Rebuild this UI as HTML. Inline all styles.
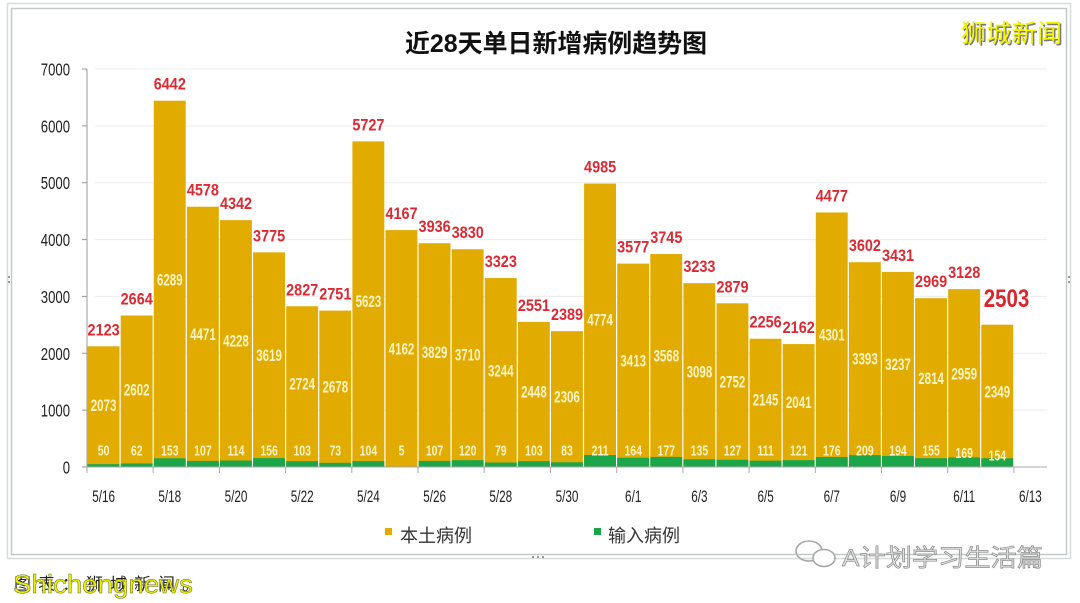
<!DOCTYPE html>
<html><head><meta charset="utf-8"><style>
html,body{margin:0;padding:0;background:#fff;}
svg{display:block;}
.num{font-family:"Liberation Sans",sans-serif;}
.cjk{font-family:"Liberation Sans","Noto Sans CJK SC",sans-serif;}
</style></head><body>
<svg width="1080" height="603" viewBox="0 0 1080 603" xmlns="http://www.w3.org/2000/svg">
<rect x="0" y="0" width="1080" height="603" fill="#fff"/>
<!-- frame -->
<rect x="7.5" y="3.5" width="1063" height="555" fill="none" stroke="#d6dcdc" stroke-width="1.5"/>
<rect x="11.5" y="8.5" width="1055" height="546" fill="none" stroke="#c3c9c9" stroke-width="1.5"/>
<g fill="#999"><rect x="8" y="276" width="2" height="2"/><rect x="8" y="281" width="2" height="2"/><rect x="1068" y="276" width="2" height="2"/><rect x="1068" y="281" width="2" height="2"/><rect x="532" y="556" width="2" height="2"/><rect x="537" y="556" width="2" height="2"/><rect x="542" y="556" width="2" height="2"/></g>

<!-- title -->
<text x="556" y="52" text-anchor="middle" class="cjk" font-size="25" font-weight="bold" fill="#111" textLength="302" lengthAdjust="spacingAndGlyphs">近28天单日新增病例趋势图</text>
<!-- top-right watermark -->
<text x="962.5" y="43.5" style="font-family:'WenQuanYi Zen Hei','Noto Sans CJK SC',sans-serif" font-size="25" fill="#777" textLength="101">狮城新闻</text>
<text x="961" y="42" style="font-family:'WenQuanYi Zen Hei','Noto Sans CJK SC',sans-serif" font-size="25" fill="#f4f400" textLength="101">狮城新闻</text>

<!-- gridlines -->
<g stroke="#ececec" stroke-width="1">
<line x1="95" y1="69" x2="1047" y2="69"/>
<line x1="95" y1="125.9" x2="1047" y2="125.9"/>
<line x1="95" y1="182.7" x2="1047" y2="182.7"/>
<line x1="95" y1="239.6" x2="1047" y2="239.6"/>
<line x1="95" y1="296.4" x2="1047" y2="296.4"/>
<line x1="95" y1="353.3" x2="1047" y2="353.3"/>
<line x1="95" y1="410.1" x2="1047" y2="410.1"/>
</g>

<!-- y axis -->
<g stroke="#9a9a9a" stroke-width="1">
<line x1="87" y1="69" x2="87" y2="467"/>
<line x1="82" y1="69" x2="87" y2="69"/>
<line x1="82" y1="125.9" x2="87" y2="125.9"/>
<line x1="82" y1="182.7" x2="87" y2="182.7"/>
<line x1="82" y1="239.6" x2="87" y2="239.6"/>
<line x1="82" y1="296.4" x2="87" y2="296.4"/>
<line x1="82" y1="353.3" x2="87" y2="353.3"/>
<line x1="82" y1="410.1" x2="87" y2="410.1"/>
<line x1="82" y1="467" x2="87" y2="467"/>
</g>
<g class="num" font-size="18" fill="#222" text-anchor="end">
<text transform="translate(70,75.5) scale(0.73,1)">7000</text>
<text transform="translate(70,132.4) scale(0.73,1)">6000</text>
<text transform="translate(70,189.2) scale(0.73,1)">5000</text>
<text transform="translate(70,246.1) scale(0.73,1)">4000</text>
<text transform="translate(70,302.9) scale(0.73,1)">3000</text>
<text transform="translate(70,359.8) scale(0.73,1)">2000</text>
<text transform="translate(70,416.6) scale(0.73,1)">1000</text>
<text transform="translate(70,473.5) scale(0.73,1)">0</text>
</g>

<!-- bars: gold totals -->
<g fill="#e1ab00">
<rect x="87.6" y="346.29" width="31.9" height="120.71"/>
<rect x="120.7" y="315.53" width="31.9" height="151.47"/>
<rect x="153.8" y="100.73" width="31.9" height="366.27"/>
<rect x="186.9" y="206.71" width="31.9" height="260.29"/>
<rect x="220.0" y="220.13" width="31.9" height="246.87"/>
<rect x="253.1" y="252.36" width="31.9" height="214.64"/>
<rect x="286.2" y="306.27" width="31.9" height="160.73"/>
<rect x="319.3" y="310.59" width="31.9" height="156.41"/>
<rect x="352.4" y="141.38" width="31.9" height="325.62"/>
<rect x="385.5" y="230.08" width="31.9" height="236.92"/>
<rect x="418.6" y="243.21" width="31.9" height="223.79"/>
<rect x="451.7" y="249.24" width="31.9" height="217.76"/>
<rect x="484.8" y="278.07" width="31.9" height="188.93"/>
<rect x="517.9" y="321.96" width="31.9" height="145.04"/>
<rect x="551.0" y="331.17" width="31.9" height="135.83"/>
<rect x="584.1" y="183.57" width="31.9" height="283.43"/>
<rect x="617.2" y="263.62" width="31.9" height="203.38"/>
<rect x="650.3" y="254.07" width="31.9" height="212.93"/>
<rect x="683.4" y="283.18" width="31.9" height="183.82"/>
<rect x="716.5" y="303.31" width="31.9" height="163.69"/>
<rect x="749.6" y="338.73" width="31.9" height="128.27"/>
<rect x="782.7" y="344.08" width="31.9" height="122.92"/>
<rect x="815.8" y="212.45" width="31.9" height="254.55"/>
<rect x="848.9" y="262.20" width="31.9" height="204.80"/>
<rect x="882.0" y="271.92" width="31.9" height="195.08"/>
<rect x="915.1" y="298.19" width="31.9" height="168.81"/>
<rect x="948.2" y="289.15" width="31.9" height="177.85"/>
<rect x="981.3" y="324.69" width="31.9" height="142.31"/>
</g>
<!-- green imported -->
<g fill="#1ba64a">
<rect x="87.6" y="464.16" width="31.9" height="2.84"/>
<rect x="120.7" y="463.47" width="31.9" height="3.53"/>
<rect x="153.8" y="458.30" width="31.9" height="8.70"/>
<rect x="186.9" y="460.92" width="31.9" height="6.08"/>
<rect x="220.0" y="460.52" width="31.9" height="6.48"/>
<rect x="253.1" y="458.13" width="31.9" height="8.87"/>
<rect x="286.2" y="461.14" width="31.9" height="5.86"/>
<rect x="319.3" y="462.85" width="31.9" height="4.15"/>
<rect x="352.4" y="461.09" width="31.9" height="5.91"/>
<rect x="385.5" y="466.72" width="31.9" height="0.28"/>
<rect x="418.6" y="460.92" width="31.9" height="6.08"/>
<rect x="451.7" y="460.18" width="31.9" height="6.82"/>
<rect x="484.8" y="462.51" width="31.9" height="4.49"/>
<rect x="517.9" y="461.14" width="31.9" height="5.86"/>
<rect x="551.0" y="462.28" width="31.9" height="4.72"/>
<rect x="584.1" y="455.00" width="31.9" height="12.00"/>
<rect x="617.2" y="457.68" width="31.9" height="9.32"/>
<rect x="650.3" y="456.94" width="31.9" height="10.06"/>
<rect x="683.4" y="459.32" width="31.9" height="7.68"/>
<rect x="716.5" y="459.78" width="31.9" height="7.22"/>
<rect x="749.6" y="460.69" width="31.9" height="6.31"/>
<rect x="782.7" y="460.12" width="31.9" height="6.88"/>
<rect x="815.8" y="456.99" width="31.9" height="10.01"/>
<rect x="848.9" y="455.12" width="31.9" height="11.88"/>
<rect x="882.0" y="455.97" width="31.9" height="11.03"/>
<rect x="915.1" y="458.19" width="31.9" height="8.81"/>
<rect x="948.2" y="457.39" width="31.9" height="9.61"/>
<rect x="981.3" y="458.24" width="31.9" height="8.76"/>
</g>

<!-- x axis -->
<g stroke="#a8a8a8" stroke-width="1">
<line x1="87" y1="467" x2="1047" y2="467"/>
<line x1="87" y1="467" x2="87" y2="473"/>
<line x1="153.2" y1="467" x2="153.2" y2="473"/>
<line x1="219.4" y1="467" x2="219.4" y2="473"/>
<line x1="285.6" y1="467" x2="285.6" y2="473"/>
<line x1="351.8" y1="467" x2="351.8" y2="473"/>
<line x1="418.0" y1="467" x2="418.0" y2="473"/>
<line x1="484.2" y1="467" x2="484.2" y2="473"/>
<line x1="550.4" y1="467" x2="550.4" y2="473"/>
<line x1="616.7" y1="467" x2="616.7" y2="473"/>
<line x1="682.9" y1="467" x2="682.9" y2="473"/>
<line x1="749.1" y1="467" x2="749.1" y2="473"/>
<line x1="815.3" y1="467" x2="815.3" y2="473"/>
<line x1="881.5" y1="467" x2="881.5" y2="473"/>
<line x1="947.7" y1="467" x2="947.7" y2="473"/>
<line x1="1013.9" y1="467" x2="1013.9" y2="473"/>
</g>
<g class="num" font-size="17" fill="#222" text-anchor="middle">
<text transform="translate(103.6,502) scale(0.69,1)">5/16</text>
<text transform="translate(169.8,502) scale(0.69,1)">5/18</text>
<text transform="translate(236.0,502) scale(0.69,1)">5/20</text>
<text transform="translate(302.2,502) scale(0.69,1)">5/22</text>
<text transform="translate(368.4,502) scale(0.69,1)">5/24</text>
<text transform="translate(434.6,502) scale(0.69,1)">5/26</text>
<text transform="translate(500.8,502) scale(0.69,1)">5/28</text>
<text transform="translate(567.0,502) scale(0.69,1)">5/30</text>
<text transform="translate(633.2,502) scale(0.69,1)">6/1</text>
<text transform="translate(699.4,502) scale(0.69,1)">6/3</text>
<text transform="translate(765.6,502) scale(0.69,1)">6/5</text>
<text transform="translate(831.8,502) scale(0.69,1)">6/7</text>
<text transform="translate(898.0,502) scale(0.69,1)">6/9</text>
<text transform="translate(964.2,502) scale(0.69,1)">6/11</text>
<text transform="translate(1030.4,502) scale(0.69,1)">6/13</text>
</g>

<!-- red total labels -->
<g class="num" font-size="17" font-weight="bold" fill="#da2a33" text-anchor="middle">
<text transform="translate(103.6,335.3) scale(0.85,1)">2123</text>
<text transform="translate(136.7,304.5) scale(0.85,1)">2664</text>
<text transform="translate(169.8,89.7) scale(0.85,1)">6442</text>
<text transform="translate(202.9,195.7) scale(0.85,1)">4578</text>
<text transform="translate(236.0,209.1) scale(0.85,1)">4342</text>
<text transform="translate(269.1,241.4) scale(0.85,1)">3775</text>
<text transform="translate(302.2,295.3) scale(0.85,1)">2827</text>
<text transform="translate(335.3,299.6) scale(0.85,1)">2751</text>
<text transform="translate(368.4,130.4) scale(0.85,1)">5727</text>
<text transform="translate(401.5,219.1) scale(0.85,1)">4167</text>
<text transform="translate(434.6,232.2) scale(0.85,1)">3936</text>
<text transform="translate(467.7,238.2) scale(0.85,1)">3830</text>
<text transform="translate(500.8,267.1) scale(0.85,1)">3323</text>
<text transform="translate(533.9,311.0) scale(0.85,1)">2551</text>
<text transform="translate(567.0,320.2) scale(0.85,1)">2389</text>
<text transform="translate(600.1,172.6) scale(0.85,1)">4985</text>
<text transform="translate(633.2,252.6) scale(0.85,1)">3577</text>
<text transform="translate(666.3,243.1) scale(0.85,1)">3745</text>
<text transform="translate(699.4,272.2) scale(0.85,1)">3233</text>
<text transform="translate(732.5,292.3) scale(0.85,1)">2879</text>
<text transform="translate(765.6,327.7) scale(0.85,1)">2256</text>
<text transform="translate(798.7,333.1) scale(0.85,1)">2162</text>
<text transform="translate(831.8,201.5) scale(0.85,1)">4477</text>
<text transform="translate(864.9,251.2) scale(0.85,1)">3602</text>
<text transform="translate(898.0,260.9) scale(0.85,1)">3431</text>
<text transform="translate(931.1,287.2) scale(0.85,1)">2969</text>
<text transform="translate(964.2,278.2) scale(0.85,1)">3128</text>
</g>
<text transform="translate(1006.5,307) scale(0.82,1)" text-anchor="middle" class="num" font-size="25" font-weight="bold" fill="#d9262f">2503</text>

<!-- local labels inside bars -->
<g class="num" font-size="17" font-weight="bold" fill="#fff4c6" text-anchor="middle">
<text transform="translate(103.6,411.2) scale(0.68,1)">2073</text>
<text transform="translate(136.7,395.5) scale(0.68,1)">2602</text>
<text transform="translate(169.8,285.5) scale(0.68,1)">6289</text>
<text transform="translate(202.9,339.8) scale(0.68,1)">4471</text>
<text transform="translate(236.0,346.3) scale(0.68,1)">4228</text>
<text transform="translate(269.1,361.2) scale(0.68,1)">3619</text>
<text transform="translate(302.2,389.7) scale(0.68,1)">2724</text>
<text transform="translate(335.3,392.7) scale(0.68,1)">2678</text>
<text transform="translate(368.4,307.2) scale(0.68,1)">5623</text>
<text transform="translate(401.5,354.4) scale(0.68,1)">4162</text>
<text transform="translate(434.6,358.1) scale(0.68,1)">3829</text>
<text transform="translate(467.7,360.7) scale(0.68,1)">3710</text>
<text transform="translate(500.8,376.3) scale(0.68,1)">3244</text>
<text transform="translate(533.9,397.6) scale(0.68,1)">2448</text>
<text transform="translate(567.0,402.7) scale(0.68,1)">2306</text>
<text transform="translate(600.1,325.3) scale(0.68,1)">4774</text>
<text transform="translate(633.2,366.7) scale(0.68,1)">3413</text>
<text transform="translate(666.3,361.5) scale(0.68,1)">3568</text>
<text transform="translate(699.4,377.3) scale(0.68,1)">3098</text>
<text transform="translate(732.5,387.5) scale(0.68,1)">2752</text>
<text transform="translate(765.6,405.7) scale(0.68,1)">2145</text>
<text transform="translate(798.7,408.1) scale(0.68,1)">2041</text>
<text transform="translate(831.8,340.7) scale(0.68,1)">4301</text>
<text transform="translate(864.9,364.7) scale(0.68,1)">3393</text>
<text transform="translate(898.0,369.9) scale(0.68,1)">3237</text>
<text transform="translate(931.1,384.2) scale(0.68,1)">2814</text>
<text transform="translate(964.2,379.3) scale(0.68,1)">2959</text>
<text transform="translate(997.3,397.5) scale(0.68,1)">2349</text>
</g>

<!-- imported labels -->
<g class="num" font-size="15" font-weight="bold" fill="#fff4c6" text-anchor="middle">
<text transform="translate(103.6,455.5) scale(0.7,1)">50</text>
<text transform="translate(136.7,455.5) scale(0.7,1)">62</text>
<text transform="translate(169.8,455.5) scale(0.7,1)">153</text>
<text transform="translate(202.9,455.5) scale(0.7,1)">107</text>
<text transform="translate(236.0,455.5) scale(0.7,1)">114</text>
<text transform="translate(269.1,455.5) scale(0.7,1)">156</text>
<text transform="translate(302.2,455.5) scale(0.7,1)">103</text>
<text transform="translate(335.3,455.5) scale(0.7,1)">73</text>
<text transform="translate(368.4,455.5) scale(0.7,1)">104</text>
<text transform="translate(401.5,455.5) scale(0.7,1)">5</text>
<text transform="translate(434.6,455.5) scale(0.7,1)">107</text>
<text transform="translate(467.7,455.5) scale(0.7,1)">120</text>
<text transform="translate(500.8,455.5) scale(0.7,1)">79</text>
<text transform="translate(533.9,455.5) scale(0.7,1)">103</text>
<text transform="translate(567.0,455.5) scale(0.7,1)">83</text>
<text transform="translate(600.1,455.5) scale(0.7,1)">211</text>
<text transform="translate(633.2,455.5) scale(0.7,1)">164</text>
<text transform="translate(666.3,455.5) scale(0.7,1)">177</text>
<text transform="translate(699.4,455.5) scale(0.7,1)">135</text>
<text transform="translate(732.5,455.5) scale(0.7,1)">127</text>
<text transform="translate(765.6,455.5) scale(0.7,1)">111</text>
<text transform="translate(798.7,455.5) scale(0.7,1)">121</text>
<text transform="translate(831.8,455.5) scale(0.7,1)">176</text>
<text transform="translate(864.9,455.5) scale(0.7,1)">209</text>
<text transform="translate(898.0,455.5) scale(0.7,1)">194</text>
<text transform="translate(931.1,455.5) scale(0.7,1)">155</text>
<text transform="translate(964.2,458) scale(0.7,1)">169</text>
<text transform="translate(997.3,460.5) scale(0.7,1)">154</text>
</g>

<!-- legend -->
<rect x="385" y="528" width="7" height="7" fill="#e1ab00"/>
<text x="400" y="542" class="cjk" font-size="18" fill="#333">本土病例</text>
<rect x="594" y="528" width="7" height="7" fill="#1ba64a"/>
<text x="608" y="542" class="cjk" font-size="18" fill="#333">输入病例</text>

<!-- wechat watermark -->
<g fill="none" stroke="#a8a8a8" stroke-width="1.6">
<ellipse cx="809" cy="551" rx="13" ry="10"/>
<ellipse cx="824" cy="558" rx="11" ry="8.5" fill="#fff"/>
</g>
<text x="842" y="566" class="cjk" font-size="24" fill="#e2e2e2" stroke="#8c8c8c" stroke-width="0.7" textLength="201" lengthAdjust="spacingAndGlyphs">A计划学习生活篇</text>

<!-- bottom-left caption + overlay -->
<text x="14" y="590" class="cjk" font-size="17" fill="#222" letter-spacing="7">图表：狮城新闻。</text>
<text x="13" y="593" class="num" font-size="26" fill="#eaf200" stroke="#6a6a30" stroke-width="0.5" textLength="180" lengthAdjust="spacingAndGlyphs">Shichengnews</text>
</svg>
</body></html>
